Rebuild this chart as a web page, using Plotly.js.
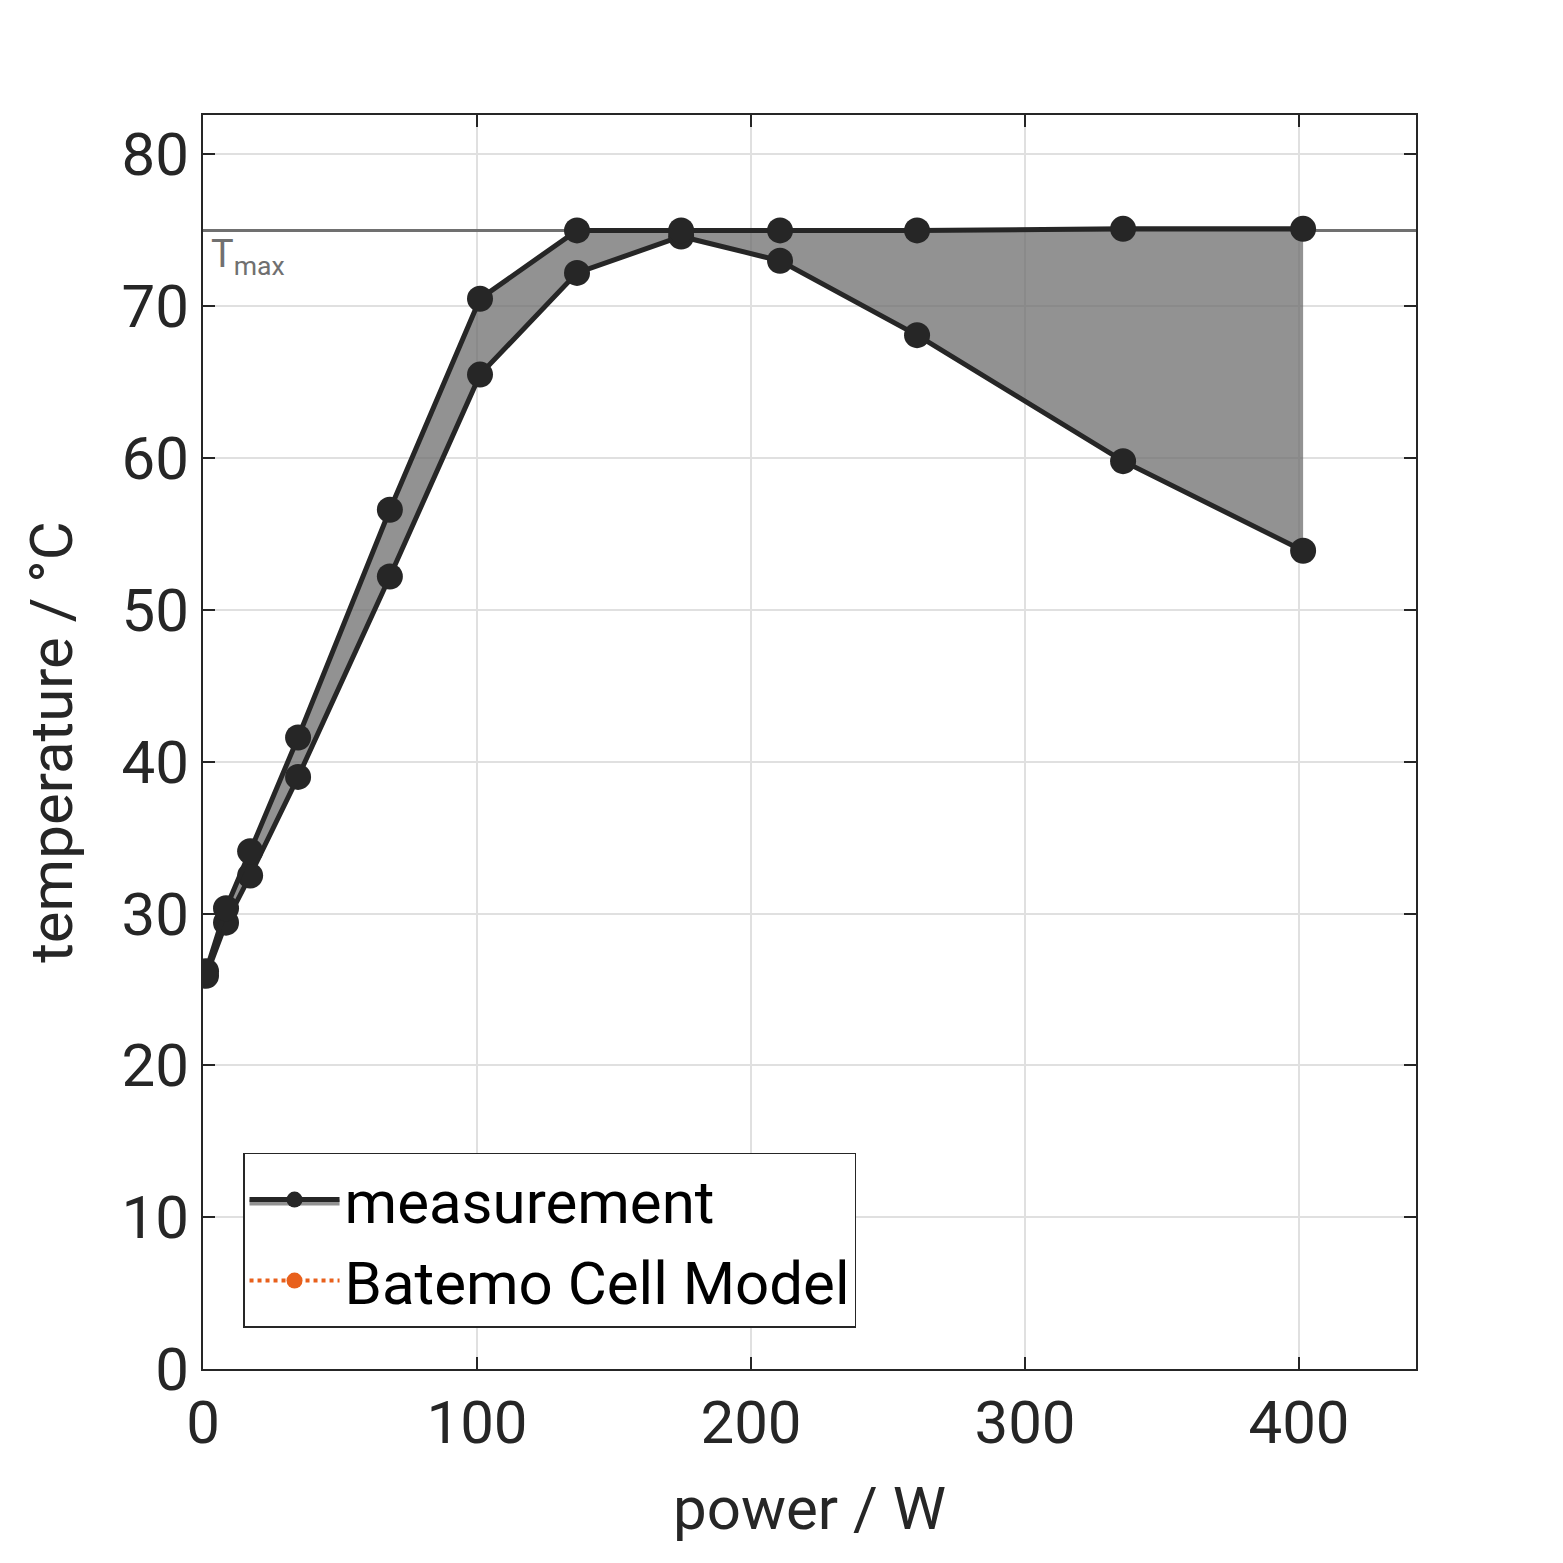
<!DOCTYPE html>
<html>
<head>
<script src="https://cdn.plot.ly/plotly-3.0.1.min.js"></script>
<style>body{margin:0;background:#fff}</style>
</head>
<body>
<div id="chart" style="width:1563px;height:1563px"></div>
<script>
const power = [1.1, 8.4, 17.2, 34.7, 68.2, 101.1, 136.5, 174.5, 210.6, 260.6, 335.8, 401.5];
const tempUpper = [26.2, 30.35, 34.1, 41.6, 56.6, 70.5, 75.0, 75.0, 75.0, 75.0, 75.1, 75.1];
const tempLower = [25.9, 29.4, 32.5, 39.0, 52.2, 65.5, 72.2, 74.6, 73.0, 68.1, 59.8, 53.9];
const tMax = 75;
const xRange = [0, 442.7];

const dark = '#262626';
const font = 'Roboto, sans-serif';

const lowerTrace = {
    x: power, y: tempLower, mode: 'lines+markers', name: 'measurement',
    line: {color: dark, width: 5}, marker: {color: dark, size: 26},
    showlegend: false
};
const upperTrace = {
    x: power, y: tempUpper, mode: 'lines+markers', name: 'measurement',
    line: {color: dark, width: 5}, marker: {color: dark, size: 26},
    fill: 'tonexty', fillcolor: 'rgba(110,110,110,0.75)', legendrank: 1
};
const modelTrace = {
    x: [null], y: [null], mode: 'lines+markers', name: 'Batemo Cell Model',
    line: {color: '#e8601c', width: 4, dash: 'dot'}, marker: {color: '#e8601c', size: 16},
    legendrank: 2
};
const tMaxTrace = {
    x: xRange, y: [tMax, tMax], mode: 'lines', showlegend: false,
    line: {color: '#707070', width: 3}, hoverinfo: 'skip'
};

const axisCommon = {
    showline: true, mirror: 'ticks', linecolor: dark, linewidth: 2,
    ticks: 'inside', ticklen: 12, tickcolor: dark, tickwidth: 1.5,
    showgrid: true, gridcolor: '#e0e0e0', gridwidth: 2, zeroline: false,
    tickfont: {family: font, size: 60, color: dark}
};

const layout = {
    width: 1563, height: 1563,
    margin: {l: 203, r: 147, t: 115, b: 194},
    plot_bgcolor: '#fff', paper_bgcolor: '#fff',
    xaxis: Object.assign({}, axisCommon, {
        range: xRange, tickvals: [0, 100, 200, 300, 400],
        title: {text: 'power / W', font: {family: font, size: 60, color: dark}, standoff: 30}
    }),
    yaxis: Object.assign({}, axisCommon, {
        range: [0, 82.6], tickvals: [0, 10, 20, 30, 40, 50, 60, 70, 80],
        title: {text: 'temperature / °C', font: {family: font, size: 60, color: dark}, standoff: 30}
    }),
    legend: {
        x: 0.033, y: 0.033, xanchor: 'left', yanchor: 'bottom',
        traceorder: 'normal', itemwidth: 90,
        bgcolor: '#fff', bordercolor: dark, borderwidth: 1.5,
        font: {family: font, size: 60, color: '#000'}
    },
    annotations: [{
        x: 0.005, y: tMax, xref: 'paper', yref: 'y', xanchor: 'left', yanchor: 'top',
        text: 'T<sub>max</sub>', showarrow: false,
        font: {family: font, size: 38, color: '#707070'}
    }]
};

Plotly.newPlot('chart', [tMaxTrace, lowerTrace, upperTrace, modelTrace], layout, {displayModeBar: false});
</script>
</body>
</html>
